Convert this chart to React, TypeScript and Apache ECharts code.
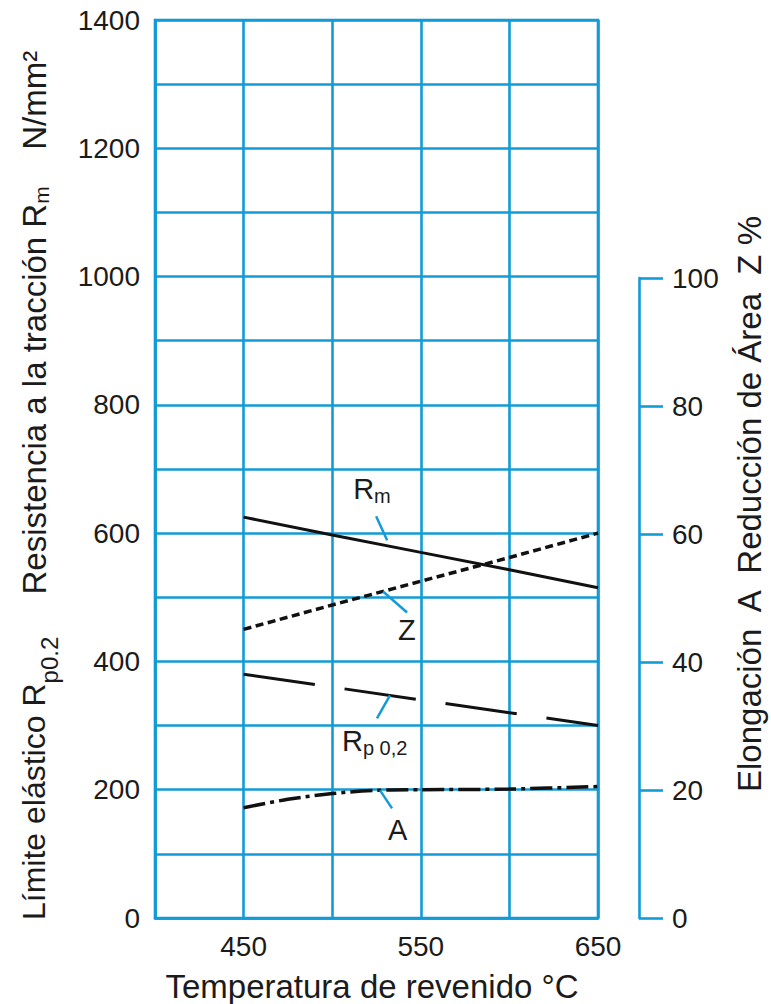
import React, { useEffect, useRef } from "react";
import * as echarts from "echarts";

// ---- data ----
const temps = [450, 500, 550, 600, 650];
const rmValues = [625, 597, 570, 543, 515];
const rpValues = [380, 360, 340, 320, 300];
const zValues = [45, 48.8, 52.5, 56.2, 60];
const tempsA = [450, 475, 500, 525, 550, 600, 650];
const aValues = [17.2, 18.5, 19.4, 19.9, 20.0, 20.1, 20.5];

const xTickLabels = [450, 550, 650];
const leftTickLabels = [0, 200, 400, 600, 800, 1000, 1200, 1400];
const rightTickLabels = [0, 20, 40, 60, 80, 100];

// curve annotations: anchor on curve (data coords), leader/label offsets (px)
const annotations = [
  { text: "{b|R}{s|m}", anchor: [531, 589], axis: 0, leader: [-11, -24], label: [-34, -51] },
  { text: "{b|Z}", anchor: [528.7, 50.9], axis: 2, leader: [24, 21], label: [15, 38] },
  { text: "{b|R}{s|p 0,2}", anchor: [532.6, 347], axis: 0, leader: [-13, 23], label: [-48, 46] },
  { text: "{b|A}", anchor: [527, 19.9], axis: 2, leader: [12, 18], label: [8, 40] },
];

const BLUE = "#129bd6";
const INK = "#1b1b1b";
const FONT = "Liberation Sans, Arial, sans-serif";

export default function App() {
  const ref = useRef<HTMLDivElement>(null);
  useEffect(() => {
    if (!ref.current) return;
    const chart = echarts.init(ref.current, undefined, { renderer: "svg" });
    const gridLine = { color: BLUE, width: 2.6 };
    chart.setOption({
      animation: false,
      textStyle: { fontFamily: FONT },
      grid: [
        { left: 155, right: 173, top: 20, bottom: 86, show: true, borderColor: BLUE, borderWidth: 2.6 },
        { left: 600, right: 132, top: 278, bottom: 86 },
      ],
      xAxis: [
        {
          type: "value", gridIndex: 0, min: 400, max: 650, interval: 50,
          axisLine: { show: true, lineStyle: gridLine },
          axisTick: { show: false },
          splitLine: { show: true, lineStyle: gridLine },
          axisLabel: {
            fontSize: 28, color: INK, margin: 14, fontFamily: FONT,
            formatter: (v: number) => (xTickLabels.includes(v) ? String(v) : ""),
          },
        },
        { type: "value", gridIndex: 1, min: 0, max: 1, show: false },
      ],
      yAxis: [
        {
          type: "value", gridIndex: 0, min: 0, max: 1400, interval: 100,
          axisLine: { show: true, lineStyle: gridLine },
          axisTick: { show: false },
          splitLine: { show: true, lineStyle: gridLine },
          axisLabel: {
            fontSize: 28, color: INK, margin: 15, fontFamily: FONT,
            formatter: (v: number) => (leftTickLabels.includes(v) ? String(v) : ""),
          },
        },
        {
          type: "value", gridIndex: 1, min: 0, max: 100, interval: 20, position: "right",
          axisLine: { show: true, onZero: false, lineStyle: gridLine },
          axisTick: { show: true, length: 24, lineStyle: gridLine },
          splitLine: { show: false },
          axisLabel: {
            fontSize: 28, color: INK, margin: 33, fontFamily: FONT,
            formatter: (v: number) => (rightTickLabels.includes(v) ? String(v) : ""),
          },
        },
        { type: "value", gridIndex: 0, min: 0, max: 140, show: false },
      ],
      series: [
        {
          name: "Rm", type: "line", xAxisIndex: 0, yAxisIndex: 0, symbol: "none",
          data: temps.map((t, i) => [t, rmValues[i]]),
          lineStyle: { color: "#111", width: 3 },
        },
        {
          name: "Rp0,2", type: "line", xAxisIndex: 0, yAxisIndex: 0, symbol: "none",
          data: temps.map((t, i) => [t, rpValues[i]]),
          lineStyle: { color: "#111", width: 3, type: [72, 30] },
        },
        {
          name: "Z", type: "line", xAxisIndex: 0, yAxisIndex: 2, symbol: "none",
          data: temps.map((t, i) => [t, zValues[i]]),
          lineStyle: { color: "#111", width: 3.5, type: [8, 4.5] },
        },
        {
          name: "A", type: "line", xAxisIndex: 0, yAxisIndex: 2, symbol: "none", smooth: 0.3,
          data: tempsA.map((t, i) => [t, aValues[i]]),
          lineStyle: { color: "#111", width: 3.5, type: [22, 5, 4, 5] },
        },
      ],
    });

    const graphics: any[] = [];
    annotations.forEach((a, i) => {
      const p = chart.convertToPixel({ xAxisIndex: 0, yAxisIndex: a.axis }, a.anchor) as number[];
      graphics.push({
        type: "line", id: "lead" + i, z: 10,
        shape: { x1: p[0], y1: p[1], x2: p[0] + a.leader[0], y2: p[1] + a.leader[1] },
        style: { stroke: BLUE, lineWidth: 2.5 },
      });
      graphics.push({
        type: "text", id: "lab" + i, z: 10,
        x: p[0] + a.label[0], y: p[1] + a.label[1],
        style: {
          text: a.text, align: "left", verticalAlign: "middle", fill: INK, fontFamily: FONT,
          rich: {
            b: { fontSize: 29, lineHeight: 34, fill: INK, fontFamily: FONT },
            s: { fontSize: 20, lineHeight: 18, verticalAlign: "bottom", fill: INK, fontFamily: FONT },
          },
        },
      });
    });
    const titleRich = {
      b: { fontSize: 32, lineHeight: 60, fill: INK, fontFamily: FONT },
      c: { fontSize: 33, lineHeight: 60, fill: INK, fontFamily: FONT },
      s: { fontSize: 24, lineHeight: 24, width: 56, align: "left", verticalAlign: "bottom", padding: [0, 0, 3, 0], fill: INK, fontFamily: FONT },
      t: { fontSize: 21, lineHeight: 23, width: 24, align: "left", verticalAlign: "bottom", padding: [0, 0, 12, 0], fill: INK, fontFamily: FONT },
      g: { fontSize: 32, lineHeight: 60, width: 33 },
      h: { fontSize: 32, lineHeight: 60, width: 30 },
    };
    graphics.push({
      type: "text", id: "ytitleL", x: 34, y: 920, rotation: Math.PI / 2,
      style: {
        text: "{b|Límite elástico R}{s|p0.2}{g| }{c|Resistencia a la tracción R}{t|m}{h| }{c|N/mm²}",
        align: "left", verticalAlign: "middle", fill: INK, fontFamily: FONT, rich: titleRich,
      },
    });
    graphics.push({
      type: "text", id: "ytitleR", x: 749, y: 504, rotation: Math.PI / 2,
      style: {
        text: "Elongación  A  Reducción de Área  Z %",
        align: "center", verticalAlign: "middle", fill: INK, fontFamily: FONT, fontSize: 33,
      },
    });
    graphics.push({
      type: "text", id: "xtitle", x: 372, y: 986,
      style: {
        text: "Temperatura de revenido °C",
        align: "center", verticalAlign: "middle", fill: INK, fontFamily: FONT, fontSize: 33,
      },
    });
    chart.setOption({ graphic: graphics });

    return () => chart.dispose();
  }, []);
  return (
    <div
      ref={ref}
      style={{ position: "fixed", left: 0, top: 0, width: 771, height: 1004, background: "#fff" }}
    />
  );
}
